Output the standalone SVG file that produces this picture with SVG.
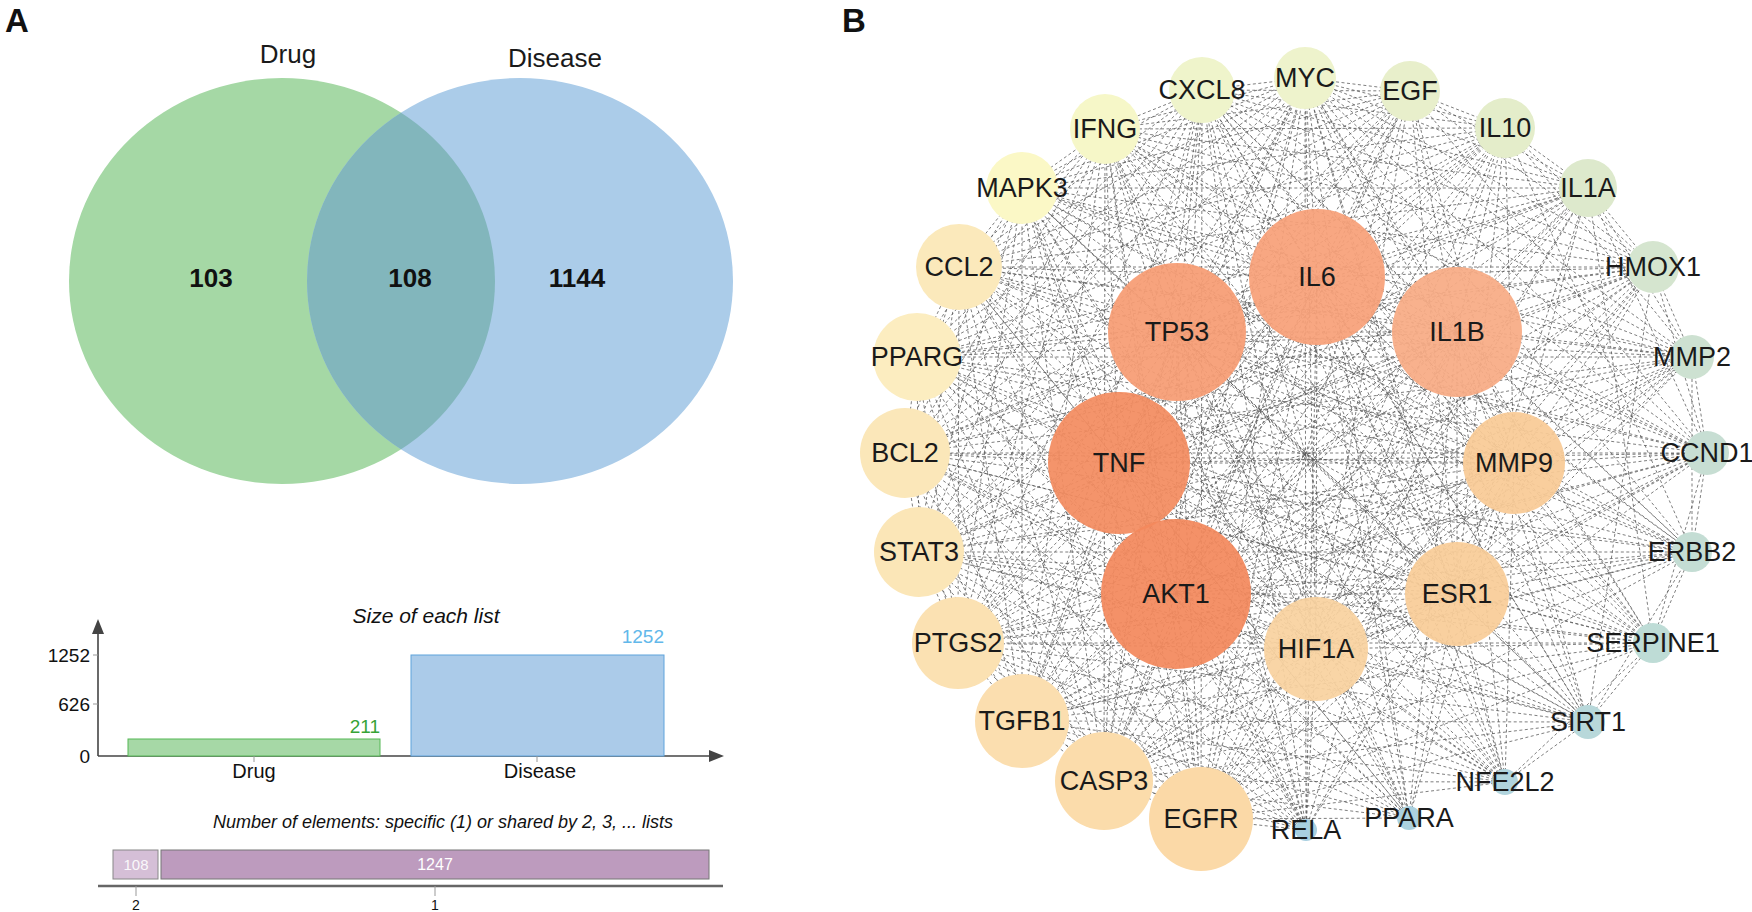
<svg xmlns="http://www.w3.org/2000/svg" width="1752" height="912" viewBox="0 0 1752 912">
<style>
text{font-family:"Liberation Sans",Arial,sans-serif;fill:#111}
.panel{font-size:33px;font-weight:bold}
.vlab{font-size:26px;fill:#1a1a1a}
.vnum{font-size:26px;font-weight:bold;text-anchor:middle}
.ax{stroke:#444;stroke-width:1.6;fill:none}
.tick{stroke:#999;stroke-width:1}
.tl{font-size:19px;text-anchor:end}
.xl{font-size:20px;text-anchor:middle}
.ttl{font-style:italic;text-anchor:middle}
.nl{font-size:27px;text-anchor:middle;fill:#1a1a1a}
.edge{fill:none;stroke:#555;stroke-width:0.9;stroke-dasharray:3 2.5;stroke-opacity:0.85}
.hub{fill-opacity:0.93}
</style>
<defs>
<clipPath id="clipG"><ellipse cx="282" cy="281" rx="213" ry="203"/></clipPath>
</defs>

<text class="panel" x="5" y="32">A</text>
<text class="panel" x="842" y="32">B</text>

<g id="venn">
<g id="set-drug"><ellipse cx="282" cy="281" rx="213" ry="203" fill="#a5d8a5"/></g>
<g id="set-disease"><ellipse cx="520" cy="281" rx="213" ry="203" fill="#abcce9"/></g>
<g id="overlap"><ellipse cx="520" cy="281" rx="213" ry="203" fill="#82b6bc" clip-path="url(#clipG)"/></g>
<text class="vlab" x="288" y="63" text-anchor="middle">Drug</text>
<text class="vlab" x="555" y="67" text-anchor="middle">Disease</text>
<text class="vnum" x="211" y="287">103</text>
<text class="vnum" x="410" y="287">108</text>
<text class="vnum" x="577" y="287">1144</text>
</g>

<g id="size-chart">
<text class="ttl" x="426" y="623" font-size="21">Size of each list</text>
<line class="ax" x1="98" y1="632" x2="98" y2="756"/>
<polygon points="92,634 104,634 98,619" fill="#444"/>
<line class="ax" x1="98" y1="756" x2="710" y2="756"/>
<polygon points="709,750 709,762 724,756" fill="#444"/>
<line class="tick" x1="93" y1="655" x2="98" y2="655"/>
<line class="tick" x1="93" y1="704" x2="98" y2="704"/>
<text class="tl" x="90" y="662">1252</text>
<text class="tl" x="90" y="711">626</text>
<text class="tl" x="90" y="763">0</text>
<g id="bar-drug"><rect x="128" y="739" width="252" height="17" fill="#a6d8a6" stroke="#55b855" stroke-width="1"/></g>
<g id="bar-disease"><rect x="411" y="655" width="253" height="101" fill="#abcbe9" stroke="#5fa3dc" stroke-width="1"/></g>
<line class="tick" x1="254" y1="756" x2="254" y2="762"/>
<line class="tick" x1="537" y1="756" x2="537" y2="762"/>
<text x="380" y="733" font-size="19" text-anchor="end" style="fill:#36a336">211</text>
<text x="664" y="643" font-size="19" text-anchor="end" style="fill:#62b8ea">1252</text>
<text class="xl" x="254" y="778">Drug</text>
<text class="xl" x="540" y="778">Disease</text>
</g>

<g id="shared-chart">
<text class="ttl" x="443" y="828" font-size="18">Number of elements: specific (1) or shared by 2, 3, ... lists</text>
<g id="bar-2"><rect x="113" y="850" width="45" height="29" fill="#d5bfd7" stroke="#888" stroke-width="1"/>
<text x="136" y="870" font-size="15" text-anchor="middle" style="fill:#fff" fill-opacity="0.9">108</text></g>
<g id="bar-1"><rect x="161" y="850" width="548" height="29" fill="#bd9bbe" stroke="#777" stroke-width="1"/>
<text x="435" y="870" font-size="16" text-anchor="middle" style="fill:#fff">1247</text></g>
<line x1="98" y1="886" x2="723" y2="886" stroke="#666" stroke-width="2.5"/>
<line class="tick" x1="136" y1="886" x2="136" y2="896"/>
<line class="tick" x1="435" y1="886" x2="435" y2="896"/>
<text x="136" y="910" font-size="14" text-anchor="middle">2</text>
<text x="435" y="910" font-size="14" text-anchor="middle">1</text>
</g>

<g id="connectors" class="edge">
<path d="M1305 78L1317 277L1410 91M1505 128L1317 277L1588 188M1653 267L1317 277L1692 357M1707 453L1317 277L1692 552M1653 643L1317 277L1588 722M1505 782L1317 277L1409 818M1306 830L1317 277L1201 819M1104 781L1317 277L1022 721M958 643L1317 277L919 552M905 453L1317 277L917 357M959 267L1317 277L1022 188M1105 129L1317 277L1202 90M1177 332L1317 277L1457 332M1119 463L1317 277L1514 463M1176 594L1317 277L1457 594M1316 649L1317 277"/>
<path d="M1305 78L1177 332L1410 91M1505 128L1177 332L1588 188M1653 267L1177 332L1692 357M1707 453L1177 332L1692 552M1653 643L1177 332L1588 722M1505 782L1177 332L1409 818M1306 830L1177 332L1201 819M1104 781L1177 332L1022 721M958 643L1177 332L919 552M905 453L1177 332L917 357M959 267L1177 332L1022 188M1105 129L1177 332L1202 90M1457 332L1177 332L1119 463M1514 463L1177 332L1176 594M1457 594L1177 332L1316 649"/>
<path d="M1305 78L1457 332L1410 91M1505 128L1457 332L1588 188M1653 267L1457 332L1692 357M1707 453L1457 332L1692 552M1653 643L1457 332L1588 722M1505 782L1457 332L1409 818M1306 830L1457 332L1201 819M1104 781L1457 332L1022 721M958 643L1457 332L919 552M905 453L1457 332L917 357M959 267L1457 332L1022 188M1105 129L1457 332L1202 90M1119 463L1457 332L1514 463M1176 594L1457 332L1457 594M1316 649L1457 332"/>
<path d="M1305 78L1119 463L1410 91M1505 128L1119 463L1588 188M1653 267L1119 463L1692 357M1707 453L1119 463L1692 552M1653 643L1119 463L1588 722M1505 782L1119 463L1409 818M1306 830L1119 463L1201 819M1104 781L1119 463L1022 721M958 643L1119 463L919 552M905 453L1119 463L917 357M959 267L1119 463L1022 188M1105 129L1119 463L1202 90M1514 463L1119 463L1176 594M1457 594L1119 463L1316 649"/>
<path d="M1305 78L1514 463L1410 91M1505 128L1514 463L1588 188M1653 267L1514 463L1692 357M1707 453L1514 463L1692 552M1653 643L1514 463L1588 722M1505 782L1514 463L1409 818M1306 830L1514 463L1201 819M1104 781L1514 463L1022 721M958 643L1514 463L919 552M905 453L1514 463L917 357M959 267L1514 463L1022 188M1105 129L1514 463L1202 90M1176 594L1514 463L1457 594M1316 649L1514 463"/>
<path d="M1305 78L1176 594L1410 91M1505 128L1176 594L1588 188M1653 267L1176 594L1692 357M1707 453L1176 594L1692 552M1653 643L1176 594L1588 722M1505 782L1176 594L1409 818M1306 830L1176 594L1201 819M1104 781L1176 594L1022 721M958 643L1176 594L919 552M905 453L1176 594L917 357M959 267L1176 594L1022 188M1105 129L1176 594L1202 90M1457 594L1176 594L1316 649"/>
<path d="M1305 78L1457 594L1410 91M1505 128L1457 594L1588 188M1653 267L1457 594L1692 357M1707 453L1457 594L1692 552M1653 643L1457 594L1588 722M1505 782L1457 594L1409 818M1306 830L1457 594L1201 819M1104 781L1457 594L1022 721M958 643L1457 594L919 552M905 453L1457 594L917 357M959 267L1457 594L1022 188M1105 129L1457 594L1202 90M1316 649L1457 594"/>
<path d="M1305 78L1316 649L1410 91M1505 128L1316 649L1588 188M1653 267L1316 649L1692 357M1707 453L1316 649L1692 552M1653 643L1316 649L1588 722M1505 782L1316 649L1409 818M1306 830L1316 649L1201 819M1104 781L1316 649L1022 721M958 643L1316 649L919 552M905 453L1316 649L917 357M959 267L1316 649L1022 188M1105 129L1316 649L1202 90"/>
<path d="M1305 78L1201 819L1410 91M1505 128L1201 819L1588 188M1653 267L1201 819L1692 357M1707 453L1201 819L1692 552M1653 643L1201 819L1588 722M1505 782L1201 819L1409 818M1306 830L1201 819L1104 781M1022 721L1201 819L958 643M919 552L1201 819L905 453M917 357L1201 819L959 267M1022 188L1201 819L1105 129M1202 90L1201 819"/>
<path d="M1305 78L1104 781L1410 91M1505 128L1104 781L1588 188M1653 267L1104 781L1692 357M1707 453L1104 781L1692 552M1653 643L1104 781L1588 722M1505 782L1104 781L1409 818M1306 830L1104 781L1022 721M958 643L1104 781L919 552M905 453L1104 781L917 357M959 267L1104 781L1022 188M1105 129L1104 781L1202 90"/>
<path d="M1305 78L1022 721L1410 91M1505 128L1022 721L1588 188M1653 267L1022 721L1692 357M1707 453L1022 721L1692 552M1653 643L1022 721L1588 722M1505 782L1022 721L1409 818M1306 830L1022 721L958 643M919 552L1022 721L905 453M917 357L1022 721L959 267M1022 188L1022 721L1105 129M1202 90L1022 721"/>
<path d="M1305 78L958 643L1410 91M1505 128L958 643L1588 188M1653 267L958 643L1692 357M1707 453L958 643L1692 552M1653 643L958 643L1588 722M1505 782L958 643L1409 818M1306 830L958 643L919 552M905 453L958 643L917 357M959 267L958 643L1022 188M1105 129L958 643L1202 90"/>
<path d="M1305 78L919 552L1410 91M1505 128L919 552L1588 188M1653 267L919 552L1692 357M1707 453L919 552L1692 552M1653 643L919 552L1588 722M1505 782L919 552L1409 818M1306 830L919 552L905 453M917 357L919 552L959 267M1022 188L919 552L1105 129M1202 90L919 552"/>
<path d="M1305 78L905 453L1410 91M1505 128L905 453L1588 188M1653 267L905 453L1692 357M1707 453L905 453L1692 552M1653 643L905 453L1588 722M1505 782L905 453L1409 818M1306 830L905 453L917 357M959 267L905 453L1022 188M1105 129L905 453L1202 90"/>
<path d="M1305 78L917 357L1410 91M1505 128L917 357L1588 188M1653 267L917 357L1692 357M1707 453L917 357L1692 552M1653 643L917 357L1588 722M1505 782L917 357L1409 818M1306 830L917 357L959 267M1022 188L917 357L1105 129M1202 90L917 357"/>
<path d="M1305 78L959 267L1410 91M1505 128L959 267L1588 188M1653 267L959 267L1692 357M1707 453L959 267L1692 552M1653 643L959 267L1588 722M1505 782L959 267L1409 818M1306 830L959 267L1022 188M1105 129L959 267L1202 90"/>
<path d="M1305 78L1022 188L1410 91M1505 128L1022 188L1588 188M1653 267L1022 188L1692 357M1707 453L1022 188L1692 552M1653 643L1022 188L1588 722M1505 782L1022 188L1409 818M1306 830L1022 188L1105 129M1202 90L1022 188"/>
<path d="M1305 78L1105 129L1410 91M1505 128L1105 129L1588 188M1653 267L1105 129L1692 357M1707 453L1105 129L1692 552M1653 643L1105 129L1588 722M1505 782L1105 129L1409 818M1306 830L1105 129L1202 90"/>
<path d="M1305 78L1202 90L1410 91M1505 128L1202 90L1588 188M1653 267L1202 90L1692 357M1707 453L1202 90L1692 552M1653 643L1202 90L1588 722M1505 782L1202 90L1409 818M1306 830L1202 90"/>
<path d="M1410 91L1305 78L1505 128M1588 188L1305 78L1653 267M1692 357L1305 78L1707 453M1692 552L1305 78L1653 643M1588 722L1305 78L1505 782M1409 818L1305 78L1306 830"/>
<path d="M1410 91L1505 128L1588 188L1653 267L1692 357L1707 453L1692 552L1653 643L1588 722L1505 782M1410 91L1588 188M1410 91L1653 267M1505 128L1653 267M1505 128L1692 357M1588 188L1692 357M1588 188L1707 453M1653 267L1707 453M1692 357L1692 552M1707 453L1653 643M1692 552L1588 722M1653 643L1505 782M1410 91L1707 453M1505 128L1692 552M1588 188L1653 643M1653 267L1588 722"/>
</g>

<g id="node-MYC"><circle cx="1305" cy="78" r="31" fill="#eef3cc"/><text class="nl" x="1305" y="78" dy="0.35em">MYC</text></g>
<g id="node-EGF"><circle cx="1410" cy="91" r="30" fill="#e8efcb"/><text class="nl" x="1410" y="91" dy="0.35em">EGF</text></g>
<g id="node-IL10"><circle cx="1505" cy="128" r="30" fill="#e4edca"/><text class="nl" x="1505" y="128" dy="0.35em">IL10</text></g>
<g id="node-IL1A"><circle cx="1588" cy="188" r="29" fill="#dde9cc"/><text class="nl" x="1588" y="188" dy="0.35em">IL1A</text></g>
<g id="node-HMOX1"><circle cx="1653" cy="267" r="26" fill="#d5e5cf"/><text class="nl" x="1653" y="267" dy="0.35em">HMOX1</text></g>
<g id="node-MMP2"><circle cx="1692" cy="357" r="22" fill="#cde1d1"/><text class="nl" x="1692" y="357" dy="0.35em">MMP2</text></g>
<g id="node-CCND1"><circle cx="1707" cy="453" r="22" fill="#c7ded3"/><text class="nl" x="1707" y="453" dy="0.35em">CCND1</text></g>
<g id="node-ERBB2"><circle cx="1692" cy="552" r="20" fill="#c4ddd4"/><text class="nl" x="1692" y="552" dy="0.35em">ERBB2</text></g>
<g id="node-SERPINE1"><circle cx="1653" cy="643" r="20" fill="#bedcd6"/><text class="nl" x="1653" y="643" dy="0.35em">SERPINE1</text></g>
<g id="node-SIRT1"><circle cx="1588" cy="722" r="17" fill="#b8d8da"/><text class="nl" x="1588" y="722" dy="0.35em">SIRT1</text></g>
<g id="node-NFE2L2"><circle cx="1505" cy="782" r="13" fill="#b0d4dd"/><text class="nl" x="1505" y="782" dy="0.35em">NFE2L2</text></g>
<g id="node-PPARA"><circle cx="1409" cy="818" r="12" fill="#abd1df"/><text class="nl" x="1409" y="818" dy="0.35em">PPARA</text></g>
<g id="node-RELA"><circle cx="1306" cy="830" r="11" fill="#a8cfe0"/><text class="nl" x="1306" y="830" dy="0.35em">RELA</text></g>
<g id="node-EGFR"><circle cx="1201" cy="819" r="52" fill="#fbd9a7"/><text class="nl" x="1201" y="819" dy="0.35em">EGFR</text></g>
<g id="node-CASP3"><circle cx="1104" cy="781" r="49" fill="#fbdcab"/><text class="nl" x="1104" y="781" dy="0.35em">CASP3</text></g>
<g id="node-TGFB1"><circle cx="1022" cy="721" r="47" fill="#fbdeaf"/><text class="nl" x="1022" y="721" dy="0.35em">TGFB1</text></g>
<g id="node-PTGS2"><circle cx="958" cy="643" r="46" fill="#fbe1b2"/><text class="nl" x="958" y="643" dy="0.35em">PTGS2</text></g>
<g id="node-STAT3"><circle cx="919" cy="552" r="45" fill="#fbe6b7"/><text class="nl" x="919" y="552" dy="0.35em">STAT3</text></g>
<g id="node-BCL2"><circle cx="905" cy="453" r="45" fill="#fbe7b9"/><text class="nl" x="905" y="453" dy="0.35em">BCL2</text></g>
<g id="node-PPARG"><circle cx="917" cy="357" r="44" fill="#fcedc0"/><text class="nl" x="917" y="357" dy="0.35em">PPARG</text></g>
<g id="node-CCL2"><circle cx="959" cy="267" r="43" fill="#fbe9bb"/><text class="nl" x="959" y="267" dy="0.35em">CCL2</text></g>
<g id="node-MAPK3"><circle cx="1022" cy="188" r="36" fill="#fbf8c6"/><text class="nl" x="1022" y="188" dy="0.35em">MAPK3</text></g>
<g id="node-IFNG"><circle cx="1105" cy="129" r="35" fill="#f6f7c8"/><text class="nl" x="1105" y="129" dy="0.35em">IFNG</text></g>
<g id="node-CXCL8"><circle cx="1202" cy="90" r="33" fill="#eff4cb"/><text class="nl" x="1202" y="90" dy="0.35em">CXCL8</text></g>

<g id="node-IL6"><circle class="hub" cx="1317" cy="277" r="68" fill="#f7a078"/><text class="nl" x="1317" y="277" dy="0.35em">IL6</text></g>
<g id="node-TP53"><circle class="hub" cx="1177" cy="332" r="69" fill="#f69c73"/><text class="nl" x="1177" y="332" dy="0.35em">TP53</text></g>
<g id="node-IL1B"><circle class="hub" cx="1457" cy="332" r="65" fill="#f8ab84"/><text class="nl" x="1457" y="332" dy="0.35em">IL1B</text></g>
<g id="node-TNF"><circle class="hub" cx="1119" cy="463" r="71" fill="#f38c60"/><text class="nl" x="1119" y="463" dy="0.35em">TNF</text></g>
<g id="node-MMP9"><circle class="hub" cx="1514" cy="463" r="51" fill="#f9ca96"/><text class="nl" x="1514" y="463" dy="0.35em">MMP9</text></g>
<g id="node-AKT1"><circle class="hub" cx="1176" cy="594" r="75" fill="#f3895d"/><text class="nl" x="1176" y="594" dy="0.35em">AKT1</text></g>
<g id="node-ESR1"><circle class="hub" cx="1457" cy="594" r="52" fill="#f9cc98"/><text class="nl" x="1457" y="594" dy="0.35em">ESR1</text></g>
<g id="node-HIF1A"><circle class="hub" cx="1316" cy="649" r="52" fill="#f9d29f"/><text class="nl" x="1316" y="649" dy="0.35em">HIF1A</text></g>
</svg>
